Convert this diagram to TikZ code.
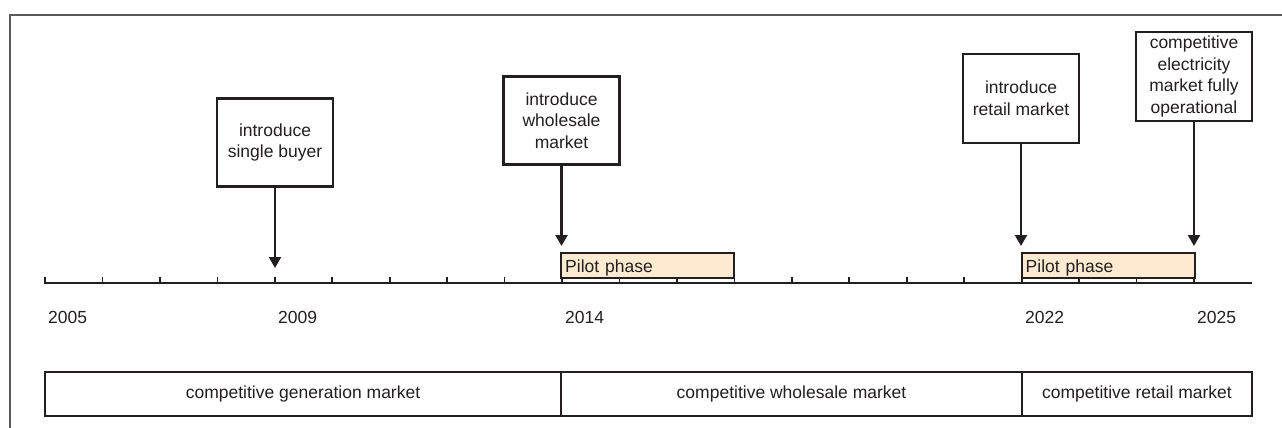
\documentclass[tikz,border=0pt]{standalone}
\usepackage{fontspec}
\setmainfont{Liberation Sans}
\usetikzlibrary{arrows.meta}
\definecolor{ink}{RGB}{35,31,32}
\definecolor{peach}{RGB}{253,234,208}
\definecolor{framegray}{RGB}{90,90,90}
\tikzset{
  txt/.style={font=\fontsize{17.5}{21.7}\selectfont, text=ink},
  evbox/.style={txt, draw=ink, line width=2.4pt, rectangle, align=center, inner sep=1pt, minimum width=116pt},
  pilotbox/.style={txt, draw=ink, fill=peach, line width=1.8pt, rectangle, align=left, inner xsep=4pt, inner ysep=0pt, text width=165pt, minimum height=25pt, text height=14pt, text depth=0pt},
  bandbox/.style={txt, draw=ink, line width=2.4pt, rectangle, minimum height=44pt, inner sep=0pt},
  arr/.style={draw=ink, line width=2.2pt, -{Triangle[length=11pt,width=12pt]}},
  axisline/.style={draw=ink, line width=2.4pt},
  tickline/.style={draw=ink, line width=1.7pt},
  yearlbl/.style={txt, anchor=base west, inner sep=0pt},
}
\begin{document}
\begin{tikzpicture}[x=1pt,y=-1pt]
\useasboundingbox (0,0) rectangle (1282,428);
\fill[white] (0,0) rectangle (1282,428);
% outer frame (cut off at right and bottom)
\draw[framegray, line width=1.8pt] (10,428) -- (10,15) -- (1282,15);

% axis
\coordinate (axL) at (45,283);
\coordinate (axR) at (1252,283);
\draw[axisline] (axL) -- (axR);
\foreach \i in {0,...,20} {
  \draw[tickline] (45+57.45*\i,284) -- ++(0,-7.5);
}

% pilot boxes
\node[pilotbox, minimum width=173pt] (p1) at (647.7,265.5) {Pilot phase};
\node[pilotbox, minimum width=173pt] (p2) at (1108.2,265.5) {Pilot phase};

% event boxes
\node[evbox, minimum height=88pt] (b1) at (275,142.5) {introduce\\single buyer};
\node[evbox, minimum height=88pt] (b2) at (561.5,120.5) {introduce\\wholesale\\market};
\node[evbox, minimum height=89pt] (b3) at (1021,98.5) {introduce\\retail market};
\node[evbox, minimum height=89pt] (b4) at (1194,76.5) {competitive\\electricity\\market fully\\operational};

% arrow tips
\coordinate (t1) at (275,268);
\coordinate (t2) at (561.5,246);
\coordinate (t3) at (1021,246);
\coordinate (t4) at (1194,246);
\draw[arr] (b1.south) -- (t1);
\draw[arr] (b2.south) -- (t2);
\draw[arr] (b3.south) -- (t3);
\draw[arr] (b4.south) -- (t4);

% year labels
\node[yearlbl] (y2005) at (48,323) {2005};
\node[yearlbl] (y2009) at (278,323) {2009};
\node[yearlbl] (y2014) at (565,323) {2014};
\node[yearlbl] (y2022) at (1025,323) {2022};
\node[yearlbl] (y2025) at (1197,323) {2025};

% bottom band
\node[bandbox, minimum width=516pt] (m1) at (303,394) {competitive generation market};
\node[bandbox, minimum width=461pt] (m2) at (791.5,394) {competitive wholesale market};
\node[bandbox, minimum width=230pt] (m3) at (1137,394) {competitive retail market};
\end{tikzpicture}
\end{document}
